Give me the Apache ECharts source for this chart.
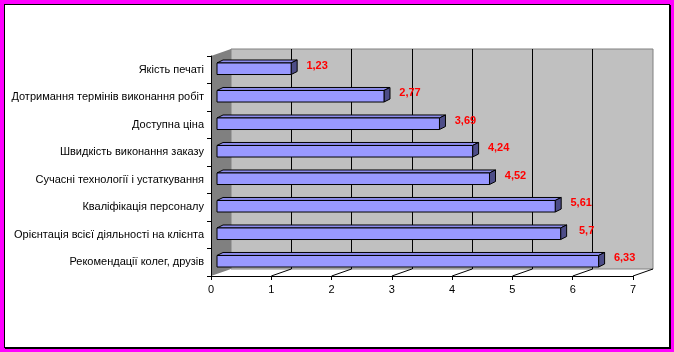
<!DOCTYPE html>
<html>
<head>
<meta charset="utf-8">
<script src="https://cdn.jsdelivr.net/npm/echarts@6/dist/echarts.min.js"></script>
<style>
html,body{margin:0;padding:0;background:#ff00ff;width:674px;height:352px;overflow:hidden;}
#frame{position:absolute;left:4px;top:4px;width:664px;height:342px;background:#fff;border:1px solid #000;box-shadow:1px 1px 0 #000;}
#chart{position:absolute;left:0;top:0;width:674px;height:352px;}
</style>
</head>
<body>
<div id="frame"></div>
<div id="chart"></div>
<script>
const categories = [
  'Якість печаті',
  'Дотримання термінів виконання робіт',
  'Доступна ціна',
  'Швидкість виконання заказу',
  'Сучасні технології і устаткування',
  'Кваліфікація персоналу',
  'Орієнтація всієї діяльності на клієнта',
  'Рекомендації колег, друзів'
];
const values = [1.23, 2.77, 3.69, 4.24, 4.52, 5.61, 5.7, 6.33];
const xMin = 0, xMax = 7, xStep = 1;

const FONT = "'Liberation Sans', Arial, sans-serif";
const DX = 20, DY = -7;      // depth of the 3D box
const FX = 6, FY = -1;       // bar front-face offset
const BX = 6, BY = -3;       // bar depth

const chart = echarts.init(document.getElementById('chart'), null, {renderer: 'canvas'});

const floorTicks = [];
for (let k = xMin + xStep; k <= xMax; k += xStep) floorTicks.push(k);

const option = {
  animation: false,
  backgroundColor: 'transparent',
  grid: [
    {left: 211, right: 41, top: 56, bottom: 76, containLabel: false},
    {left: 231, right: 21, top: 49, bottom: 83, containLabel: false, show: true,
     backgroundColor: '#c0c0c0', borderColor: '#808080', borderWidth: 1, z: 0}
  ],
  xAxis: [
    {gridIndex: 0, type: 'value', min: xMin, max: xMax, interval: xStep,
     axisLine: {show: true, lineStyle: {color: '#000', width: 1}},
     axisTick: {show: true, length: 4, lineStyle: {color: '#000'}},
     axisLabel: {color: '#000', fontSize: 11, fontFamily: FONT, margin: 8},
     splitLine: {show: false}, z: 5},
    {gridIndex: 1, type: 'value', min: xMin, max: xMax, interval: xStep,
     axisLine: {show: false}, axisTick: {show: false}, axisLabel: {show: false},
     splitLine: {show: true, showMinLine: false, showMaxLine: false, lineStyle: {color: '#000', width: 1}}}
  ],
  yAxis: [
    {gridIndex: 0, type: 'category', data: categories, inverse: true,
     axisLine: {show: true, lineStyle: {color: '#000', width: 1}},
     axisTick: {show: true, length: 4, lineStyle: {color: '#000'}},
     axisLabel: {color: '#000', fontSize: 11, fontFamily: FONT, margin: 7},
     splitLine: {show: false}, z: 5},
    {gridIndex: 1, type: 'value', min: 0, max: 1,
     axisLine: {show: false}, axisTick: {show: false}, axisLabel: {show: false}, splitLine: {show: false}}
  ],
  series: [
    {
      type: 'custom', xAxisIndex: 0, yAxisIndex: 0, z: 1, silent: true,
      data: floorTicks.map(k => [k, 0]),
      renderItem: function (params, api) {
        const cs = params.coordSys;
        const bottom = cs.y + cs.height;
        const x = api.coord([api.value(0), 0])[0];
        const children = [{
          type: 'line',
          shape: {x1: x, y1: bottom, x2: x + DX, y2: bottom + DY},
          style: {stroke: '#000', lineWidth: 1}
        }];
        if (params.dataIndex === 0) {
          children.push({
            type: 'polygon',
            shape: {points: [[cs.x, cs.y], [cs.x + DX, cs.y + DY], [cs.x + DX, bottom + DY], [cs.x, bottom]]},
            style: {fill: '#808080'}
          });
        }
        return {type: 'group', children: children};
      }
    },
    {
      type: 'custom', xAxisIndex: 0, yAxisIndex: 0, z: 3, silent: true,
      data: values.map((v, i) => [v, i]),
      encode: {x: 0, y: 1},
      renderItem: function (params, api) {
        const v = api.value(0), ci = api.value(1);
        const p0 = api.coord([0, ci]);
        const p1 = api.coord([v, ci]);
        const band = api.size([0, 1])[1];
        const h = band * 0.42;
        const x0 = p0[0] + FX, x1 = p1[0] + FX;
        const yc = p0[1] + FY;
        const top = yc - h / 2, bot = yc + h / 2;
        const stroke = {stroke: '#000', lineWidth: 1};
        return {
          type: 'group',
          children: [
            {type: 'polygon', shape: {points: [[x0, top], [x1, top], [x1 + BX, top + BY], [x0 + BX, top + BY]]},
             style: Object.assign({fill: '#8c8cec'}, stroke)},
            {type: 'polygon', shape: {points: [[x1, top], [x1, bot], [x1 + BX, bot + BY], [x1 + BX, top + BY]]},
             style: Object.assign({fill: '#4d4d88'}, stroke)},
            {type: 'rect', shape: {x: x0, y: top, width: x1 - x0, height: h},
             style: Object.assign({fill: '#9999ff'}, stroke)},
            {type: 'text', x: x1 + BX + 20, y: yc - 3,
             style: {text: String(v).replace('.', ','), fill: '#ff0000', font: 'bold 11px ' + FONT,
                     textAlign: 'center', textVerticalAlign: 'middle'}}
          ]
        };
      }
    }
  ]
};
chart.setOption(option);
</script>
</body>
</html>
